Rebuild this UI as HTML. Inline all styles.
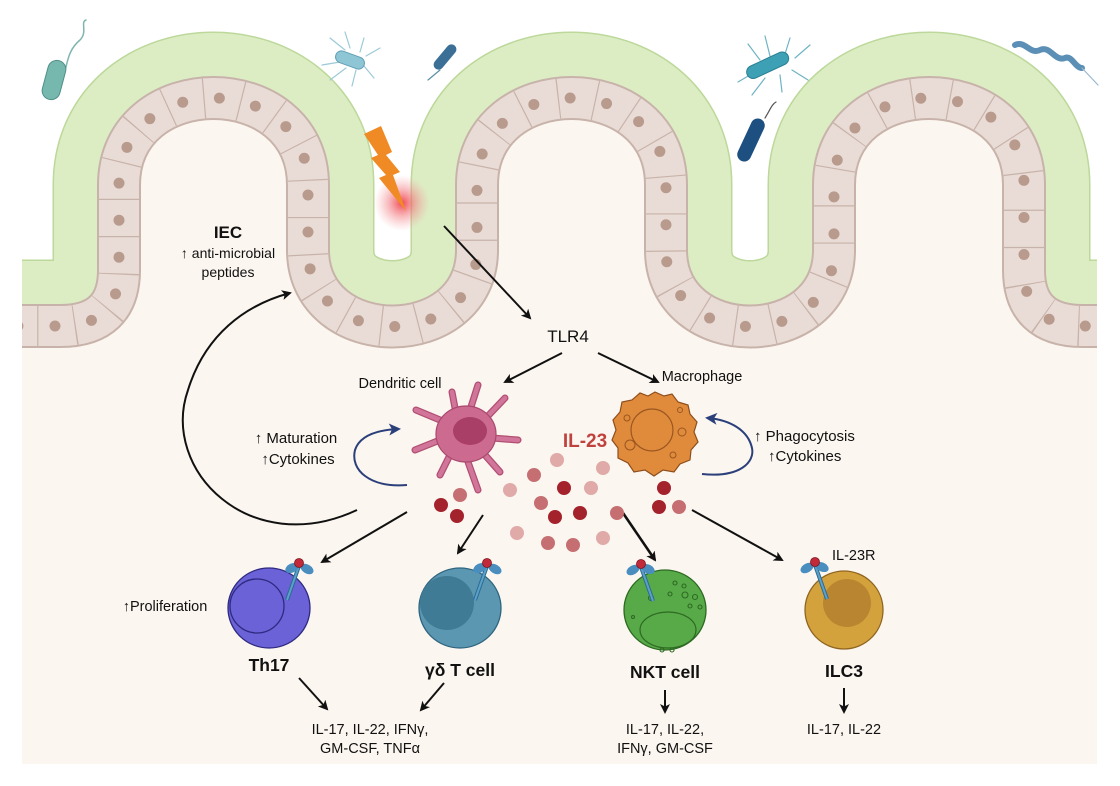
<!DOCTYPE html>
<html><head><meta charset="utf-8"><style>
html,body{margin:0;padding:0;background:#fff;}
svg{display:block;}
text{font-family:"Liberation Sans",Arial,sans-serif;fill:#111;}
</style></head><body>
<svg width="1120" height="786" viewBox="0 0 1120 786" xmlns="http://www.w3.org/2000/svg">
<defs>
<clipPath id="cp"><rect x="22" y="0" width="1075" height="786"/></clipPath>
<radialGradient id="glow"><stop offset="0" stop-color="#f0404a" stop-opacity="0.95"/><stop offset="0.5" stop-color="#f27a80" stop-opacity="0.5"/><stop offset="1" stop-color="#f6a0a5" stop-opacity="0"/></radialGradient>
<marker id="ah" markerWidth="10" markerHeight="10" refX="8" refY="5" orient="auto" markerUnits="userSpaceOnUse"><path d="M0,0 L10,5 L0,10 L2.5,5 Z" fill="#111"/></marker>
<marker id="ahb" markerWidth="12" markerHeight="12" refX="9" refY="6" orient="auto" markerUnits="userSpaceOnUse"><path d="M0,0 L12,6 L0,12 L3,6 Z" fill="#2b3f7a"/></marker>
<path id="cl" d="M0,326 L60,326 Q119,326 119,270 L119,185 C119,69 308,69 308,185 L308,250 C308,352 477,352 477,250 L477,185 C477,69 666,69 666,185 L666,250 C666,352 834,352 834,250 L834,185 C834,69 1024,69 1024,185 L1024,270 Q1024,326 1083,326 L1120,326"/>
<g id="rc">
<line x1="0" y1="0" x2="-12" y2="34" stroke="#2b6a92" stroke-width="4"/>
<line x1="0" y1="0" x2="-12" y2="34" stroke="#5aa0c8" stroke-width="2"/>
<ellipse cx="-7" cy="2" rx="7" ry="4.5" fill="#4a8ec0" transform="rotate(-25 -7 2)"/>
<ellipse cx="8" cy="3" rx="7" ry="4.5" fill="#4a8ec0" transform="rotate(30 8 3)"/>
<circle cx="0" cy="-3" r="4.5" fill="#c22a3a" stroke="#7a1520" stroke-width="0.8"/>
</g>
</defs>
<rect x="22" y="0" width="1075" height="764" fill="#fcf6f0"/>
<rect x="22" y="0" width="1075" height="330" fill="#fff"/>
<g clip-path="url(#cp)">
<use href="#cl" fill="none" stroke="#bcd89a" stroke-width="133" stroke-linejoin="round"/>
<use href="#cl" fill="none" stroke="#dcedc4" stroke-width="130" stroke-linejoin="round"/>
<path d="M0,326 L60,326 Q119,326 119,270 L119,185 C119,69 308,69 308,185 L308,250 C308,352 477,352 477,250 L477,185 C477,69 666,69 666,185 L666,250 C666,352 834,352 834,250 L834,185 C834,69 1024,69 1024,185 L1024,270 Q1024,326 1083,326 L1120,326 L1120,764 L0,764 Z" fill="#fcf6f0"/>
<use href="#cl" fill="none" stroke="#c8b3aa" stroke-width="44"/>
<use href="#cl" fill="none" stroke="#e9dcd6" stroke-width="40"/>
<use href="#cl" fill="none" stroke="#c8b3aa" stroke-width="40" stroke-dasharray="1.2 36"/>
<use href="#cl" fill="none" stroke="#b99b8e" stroke-width="11" stroke-linecap="round" stroke-dasharray="0 37" stroke-dashoffset="-18"/>
</g>
<!-- lightning & glow -->
<circle cx="402" cy="203" r="28" fill="url(#glow)"/>
<path d="M364,134 L381,126 L392,152 L386,155 L400,172 L393,175 L406,211 L379,178 L386,175 L371,158 L378,155 Z" fill="#ef8a24"/>
<!-- bacteria -->
<g stroke-linecap="round">
<path d="M55,92 C70,75 62,55 80,40 C88,32 80,22 86,20" stroke="#7fb5b0" stroke-width="1.5" fill="none"/>
<rect x="45" y="60" width="18" height="40" rx="9" fill="#76b7ae" stroke="#4f8f88" stroke-width="1" transform="rotate(15 54 80)"/>
<g stroke="#9ccad8" stroke-width="1.2" fill="none">
<path d="M345,50 L330,38 M350,48 L345,32 M360,52 L364,38 M366,56 L380,48 M340,62 L322,65 M346,68 L330,80 M356,70 L352,86 M364,66 L374,78"/></g>
<rect x="335" y="54" width="30" height="12" rx="6" fill="#8fc6d6" stroke="#5f9fb5" transform="rotate(20 350 60)"/>
<path d="M440,70 L428,80" stroke="#5a8fa8" stroke-width="1.2"/>
<rect x="440" y="42" width="10" height="30" rx="5" fill="#3b6f96" transform="rotate(40 445 57)"/>
<g stroke="#6fb3c4" stroke-width="1.2" fill="none">
<path d="M760,60 L748,44 M770,56 L765,36 M785,54 L790,38 M795,58 L810,45 M755,72 L738,82 M765,78 L752,95 M780,75 L782,92 M792,70 L808,80"/></g>
<rect x="745" y="59" width="45" height="13" rx="6.5" fill="#3ea0b5" stroke="#2a7f93" transform="rotate(-25 767 65)"/>
<path d="M765,118 C770,110 772,104 776,102" stroke="#555" stroke-width="1.2" fill="none"/>
<rect x="744" y="117" width="14" height="46" rx="7" fill="#1d4f80" transform="rotate(25 751 140)"/>
<path d="M1015,45 C1025,40 1030,55 1040,50 C1050,45 1055,62 1065,58 C1072,55 1075,68 1082,68" stroke="#5b8fb5" stroke-width="6" fill="none"/>
<path d="M1082,68 L1098,85" stroke="#9ab8d0" stroke-width="1.2"/>
</g>
<!-- arrows -->
<g stroke="#111" stroke-width="2" fill="none" marker-end="url(#ah)">
<line x1="444" y1="226" x2="530" y2="318"/>
<line x1="562" y1="353" x2="505" y2="382"/>
<line x1="598" y1="353" x2="658" y2="382"/>
<path d="M357,510 C250,560 160,470 188,390 C205,335 245,305 290,293"/>
<line x1="407" y1="512" x2="322" y2="562"/>
<line x1="483" y1="515" x2="458" y2="553"/>
<line x1="623" y1="513" x2="655" y2="560" stroke-width="2.6"/>
<line x1="692" y1="510" x2="782" y2="560"/>
<line x1="299" y1="678" x2="327" y2="709"/>
<line x1="444" y1="683" x2="421" y2="710"/>
<line x1="665" y1="690" x2="665" y2="712"/>
<line x1="844" y1="688" x2="844" y2="712"/>
</g>
<g stroke="#2b3f7a" stroke-width="2" fill="none" marker-end="url(#ahb)">
<path d="M407,485 C370,488 350,470 355,450 C360,435 378,430 398,429"/>
<path d="M702,474 C740,478 755,462 752,448 C748,430 730,420 708,418"/>
</g>
<!-- dendritic cell -->
<g stroke="#b14f72" stroke-width="7" stroke-linecap="round" fill="none">
<path d="M470,410 L478,385 M486,418 L505,398 M492,438 L518,440 M485,455 L500,472 M468,462 L478,490 M450,455 L440,475 M440,440 L415,450 M440,420 L416,410 M455,408 L452,392"/></g>
<g stroke="#d2759a" stroke-width="4.5" stroke-linecap="round" fill="none">
<path d="M470,410 L478,385 M486,418 L505,398 M492,438 L518,440 M485,455 L500,472 M468,462 L478,490 M450,455 L440,475 M440,440 L415,450 M440,420 L416,410 M455,408 L452,392"/></g>
<ellipse cx="466" cy="434" rx="30" ry="28" fill="#cd6a8f" stroke="#a9496d" stroke-width="1.2"/>
<ellipse cx="470" cy="431" rx="17" ry="14" fill="#a93e66"/>
<!-- macrophage -->
<path d="M655,392 L664,396 L672,394 L678,402 L688,405 L690,414 L697,422 L694,432 L698,442 L691,450 L690,460 L680,464 L674,472 L663,470 L654,476 L645,470 L634,472 L628,463 L618,458 L618,448 L612,440 L616,430 L613,420 L620,412 L622,402 L632,400 L640,393 L648,396 Z" fill="#e08b3c" stroke="#8e4d1a" stroke-width="1.2"/>
<circle cx="652" cy="430" r="21" fill="none" stroke="#9a561f" stroke-width="1.2"/>
<g fill="none" stroke="#9a561f" stroke-width="1"><circle cx="682" cy="432" r="4"/><circle cx="630" cy="445" r="5"/><circle cx="673" cy="455" r="3"/><circle cx="627" cy="418" r="3"/><circle cx="680" cy="410" r="2.5"/></g>
<!-- IL-23 particles -->
<g>
<circle cx="557" cy="460" r="7" fill="#e0aaa8"/><circle cx="603" cy="468" r="7" fill="#e0aaa8"/>
<circle cx="534" cy="475" r="7" fill="#c66f72"/><circle cx="510" cy="490" r="7" fill="#e0aaa8"/>
<circle cx="564" cy="488" r="7" fill="#a3222c"/><circle cx="591" cy="488" r="7" fill="#e0aaa8"/>
<circle cx="541" cy="503" r="7" fill="#c66f72"/><circle cx="555" cy="517" r="7" fill="#a3222c"/>
<circle cx="580" cy="513" r="7" fill="#a3222c"/><circle cx="617" cy="513" r="7" fill="#c66f72"/>
<circle cx="517" cy="533" r="7" fill="#e0aaa8"/><circle cx="548" cy="543" r="7" fill="#c66f72"/>
<circle cx="573" cy="545" r="7" fill="#c66f72"/><circle cx="603" cy="538" r="7" fill="#e0aaa8"/>
<circle cx="460" cy="495" r="7" fill="#c66f72"/><circle cx="441" cy="505" r="7" fill="#a3222c"/>
<circle cx="457" cy="516" r="7" fill="#a3222c"/><circle cx="664" cy="488" r="7" fill="#a3222c"/>
<circle cx="659" cy="507" r="7" fill="#a3222c"/><circle cx="679" cy="507" r="7" fill="#c66f72"/>
</g>
<!-- lymphocytes -->
<ellipse cx="269" cy="608" rx="41" ry="40" fill="#6a62d6" stroke="#2e2a80" stroke-width="1.3"/>
<circle cx="257" cy="606" r="27" fill="none" stroke="#2e2a80" stroke-width="1.3"/>
<ellipse cx="460" cy="608" rx="41" ry="40" fill="#5b97b0" stroke="#2f6580" stroke-width="1.3"/>
<circle cx="447" cy="603" r="27" fill="#3f7b94"/>
<ellipse cx="665" cy="610" rx="41" ry="40" fill="#58aa48" stroke="#2d6a22" stroke-width="1.3"/>
<ellipse cx="668" cy="630" rx="28" ry="18" fill="none" stroke="#2d6a22" stroke-width="1.2"/>
<g fill="none" stroke="#2d6a22" stroke-width="1.1"><circle cx="675" cy="583" r="2"/><circle cx="684" cy="586" r="2"/><circle cx="685" cy="595" r="3"/><circle cx="670" cy="594" r="2"/><circle cx="695" cy="597" r="2.5"/><circle cx="690" cy="606" r="2"/><circle cx="700" cy="607" r="2"/><circle cx="651" cy="598" r="2.5"/><circle cx="633" cy="617" r="1.5"/><circle cx="662" cy="650" r="2"/><circle cx="672" cy="650" r="2"/></g>
<circle cx="844" cy="610" r="39" fill="#d4a23d" stroke="#8f6520" stroke-width="1.3"/>
<circle cx="847" cy="603" r="24" fill="#b98530"/>
<!-- receptors -->
<use href="#rc" transform="translate(299,566)"/>
<use href="#rc" transform="translate(487,566)"/>
<use href="#rc" transform="translate(641,567) scale(-1,1)"/>
<use href="#rc" transform="translate(815,565) scale(-1,1)"/>
<!-- labels -->
<text x="228" y="238" font-size="17" font-weight="bold" text-anchor="middle">IEC</text>
<text x="228" y="258" font-size="14" text-anchor="middle">↑ anti-microbial</text>
<text x="228" y="277" font-size="14" text-anchor="middle">peptides</text>
<text x="568" y="342" font-size="17" text-anchor="middle">TLR4</text>
<text x="400" y="388" font-size="14.5" text-anchor="middle">Dendritic cell</text>
<text x="702" y="381" font-size="14.5" text-anchor="middle">Macrophage</text>
<text x="585" y="447" font-size="19" font-weight="bold" text-anchor="middle" style="fill:#c0423f">IL-23</text>
<text x="296" y="443" font-size="15" text-anchor="middle">↑ Maturation</text>
<text x="298" y="464" font-size="15" text-anchor="middle">↑Cytokines</text>
<text x="754" y="441" font-size="15">↑ Phagocytosis</text>
<text x="768" y="461" font-size="15">↑Cytokines</text>
<text x="832" y="560" font-size="14.5">IL-23R</text>
<text x="165" y="611" font-size="14.5" text-anchor="middle">↑Proliferation</text>
<text x="269" y="671" font-size="17.5" font-weight="bold" text-anchor="middle">Th17</text>
<text x="460" y="676" font-size="17.5" font-weight="bold" text-anchor="middle">γδ T cell</text>
<text x="665" y="678" font-size="17.5" font-weight="bold" text-anchor="middle">NKT cell</text>
<text x="844" y="677" font-size="17.5" font-weight="bold" text-anchor="middle">ILC3</text>
<text x="370" y="734" font-size="14.5" text-anchor="middle">IL-17, IL-22, IFNγ,</text>
<text x="370" y="753" font-size="14.5" text-anchor="middle">GM-CSF, TNFα</text>
<text x="665" y="734" font-size="14.5" text-anchor="middle">IL-17, IL-22,</text>
<text x="665" y="753" font-size="14.5" text-anchor="middle">IFNγ, GM-CSF</text>
<text x="844" y="734" font-size="14.5" text-anchor="middle">IL-17, IL-22</text>
</svg>
</body></html>
